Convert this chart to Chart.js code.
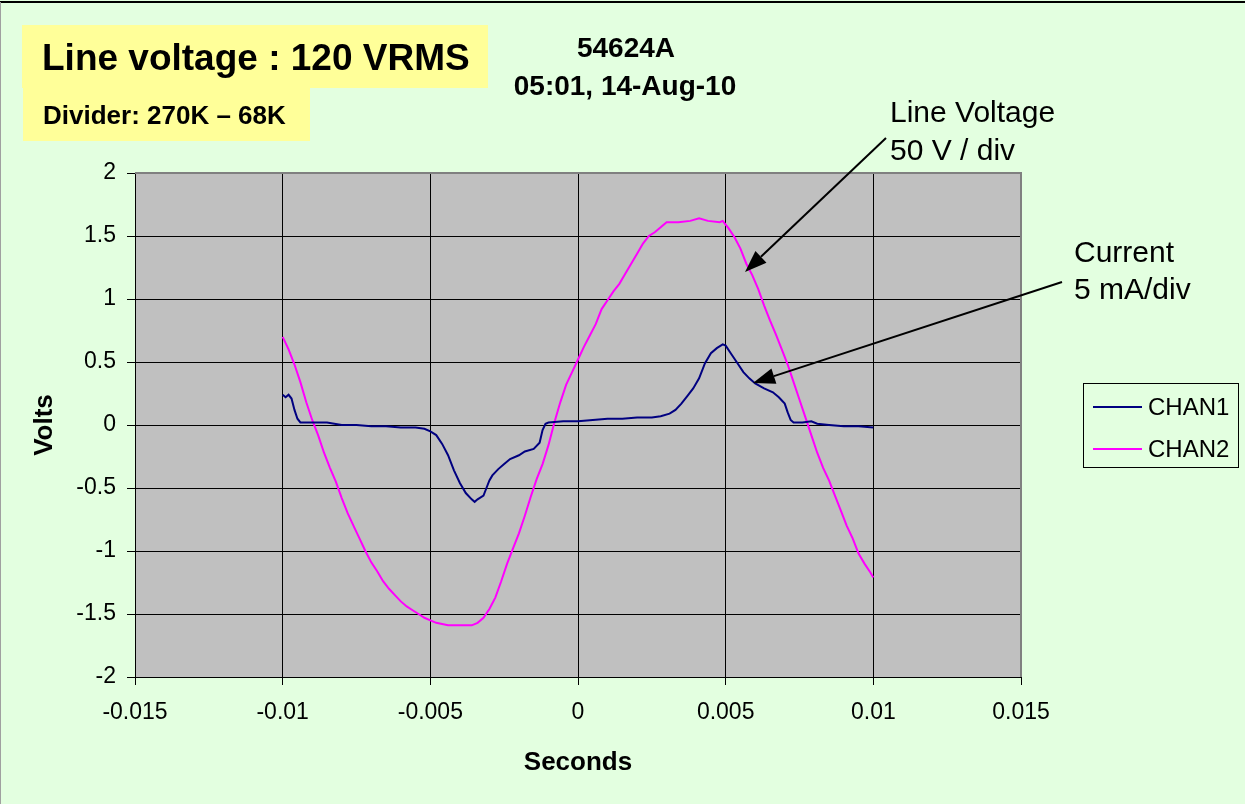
<!DOCTYPE html>
<html>
<head>
<meta charset="utf-8">
<style>
  html, body { margin: 0; padding: 0; background: #E3FFE0; }
  canvas { display: block; }
</style>
<script src="https://cdn.jsdelivr.net/npm/chart.js@4"></script>
</head>
<body>
<canvas id="scopeChart" width="1245" height="804"></canvas>
<script>
// scope capture
const chan1Time = [
  -0.0100, -0.0099, -0.0098, -0.0097, -0.0096, -0.0095, -0.0094, -0.0090, -0.0085, -0.0080,
  -0.0075, -0.0070, -0.0065, -0.0060, -0.0055, -0.0052, -0.0050, -0.0048, -0.0046, -0.0044,
  -0.0042, -0.0040, -0.0038, -0.0036, -0.0035, -0.0034, -0.0032, -0.0031, -0.0030, -0.0029,
  -0.0027, -0.0025, -0.0023, -0.0020, -0.0018, -0.0015, -0.0013, -0.0012, -0.0011, -0.0010,
  -0.0005, 0.0000, 0.0005, 0.0010, 0.0015, 0.0020, 0.0025, 0.0028, 0.0031, 0.0033,
  0.0035, 0.0037, 0.0039, 0.0041, 0.0043, 0.0045, 0.0047, 0.0049, 0.0050, 0.0052,
  0.0054, 0.0056, 0.0058, 0.0060, 0.0063, 0.0066, 0.0068, 0.0070, 0.0071, 0.0072,
  0.0073, 0.0076, 0.0079, 0.0081, 0.0085, 0.0090, 0.0095, 0.0100
];
const chan1Volts = [
  0.24, 0.22, 0.24, 0.21, 0.12, 0.05, 0.02, 0.02, 0.02, 0.00,
  0.00, -0.01, -0.01, -0.02, -0.02, -0.03, -0.05, -0.08, -0.15, -0.24,
  -0.36, -0.46, -0.54, -0.59, -0.61, -0.59, -0.56, -0.50, -0.44, -0.40,
  -0.35, -0.31, -0.27, -0.24, -0.21, -0.19, -0.14, -0.04, 0.01, 0.02,
  0.03, 0.03, 0.04, 0.05, 0.05, 0.06, 0.06, 0.07, 0.09, 0.12,
  0.17, 0.23, 0.29, 0.37, 0.49, 0.57, 0.61, 0.64, 0.63, 0.56,
  0.49, 0.42, 0.37, 0.33, 0.29, 0.26, 0.22, 0.17, 0.10, 0.04,
  0.02, 0.02, 0.03, 0.01, 0.00, -0.01, -0.01, -0.02
];

const chan2Time = [
  -0.0100, -0.0098, -0.0096, -0.0094, -0.0092, -0.0090, -0.0088, -0.0086, -0.0084, -0.0082,
  -0.0080, -0.0078, -0.0076, -0.0074, -0.0072, -0.0070, -0.0068, -0.0066, -0.0064, -0.0062,
  -0.0060, -0.0058, -0.0056, -0.0054, -0.0052, -0.0050, -0.0048, -0.0046, -0.0044, -0.0040,
  -0.0036, -0.0034, -0.0032, -0.0030, -0.0028, -0.0026, -0.0024, -0.0022, -0.0020, -0.0018,
  -0.0016, -0.0014, -0.0012, -0.0010, -0.0008, -0.0006, -0.0004, -0.0002, 0.0000, 0.0002,
  0.0004, 0.0006, 0.0008, 0.0010, 0.0012, 0.0014, 0.0016, 0.0018, 0.0020, 0.0022,
  0.0024, 0.0026, 0.0028, 0.0030, 0.0034, 0.0038, 0.0041, 0.0044, 0.0048, 0.0049,
  0.0051, 0.0053, 0.0055, 0.0057, 0.0059, 0.0061, 0.0063, 0.0065, 0.0067, 0.0069,
  0.0071, 0.0073, 0.0075, 0.0077, 0.0079, 0.0081, 0.0083, 0.0085, 0.0087, 0.0089,
  0.0091, 0.0093, 0.0095, 0.0097, 0.0099, 0.0100
];
const chan2Volts = [
  0.70, 0.60, 0.48, 0.34, 0.18, 0.04, -0.08, -0.22, -0.34, -0.45,
  -0.58, -0.70, -0.80, -0.90, -1.00, -1.09, -1.16, -1.24, -1.30, -1.35,
  -1.40, -1.44, -1.47, -1.50, -1.53, -1.55, -1.57, -1.58, -1.59, -1.59,
  -1.59, -1.57, -1.53, -1.46, -1.37, -1.24, -1.10, -0.98, -0.86, -0.72,
  -0.57, -0.43, -0.31, -0.16, 0.02, 0.18, 0.32, 0.42, 0.52, 0.62,
  0.71, 0.80, 0.92, 0.99, 1.06, 1.12, 1.20, 1.28, 1.36, 1.44,
  1.50, 1.53, 1.57, 1.61, 1.61, 1.62, 1.64, 1.62, 1.61, 1.62,
  1.56, 1.49, 1.40, 1.28, 1.19, 1.08, 0.95, 0.83, 0.72, 0.60,
  0.48, 0.34, 0.20, 0.06, -0.08, -0.22, -0.34, -0.44, -0.56, -0.68,
  -0.80, -0.90, -1.02, -1.10, -1.17, -1.21
];

const seriesNames = ['CHAN1', 'CHAN2'];
const seriesColors = ['#000080', '#FF00FF'];

const toPoints = (xs, ys) => xs.map((x, i) => ({ x: x, y: ys[i] }));

const FONT = '"Liberation Sans", Arial, sans-serif';
const BG = '#E3FFE0';

// everything that is not a data mark: boxes, notes, arrows, legend
const decorations = {
  id: 'decorations',
  beforeDraw(chart) {
    const ctx = chart.ctx;
    const a = chart.chartArea;
    ctx.save();
    ctx.fillStyle = BG;
    ctx.fillRect(0, 0, chart.width, chart.height);
    ctx.fillStyle = '#C0C0C0';
    ctx.fillRect(a.left, a.top, a.right - a.left, a.bottom - a.top);
    ctx.restore();
  },
  afterDraw(chart) {
    const ctx = chart.ctx;
    const a = chart.chartArea;
    ctx.save();

    // plot frame, top and right
    ctx.strokeStyle = '#808080';
    ctx.lineWidth = 2;
    ctx.beginPath();
    ctx.moveTo(a.left, a.top);
    ctx.lineTo(a.right, a.top);
    ctx.lineTo(a.right, a.bottom);
    ctx.stroke();

    // picture frame
    ctx.strokeStyle = '#000';
    ctx.lineWidth = 2;
    ctx.beginPath();
    ctx.moveTo(0, 2);
    ctx.lineTo(chart.width, 2);
    ctx.stroke();
    ctx.strokeStyle = '#A0A0A0';
    ctx.lineWidth = 1;
    ctx.beginPath();
    ctx.moveTo(0.5, 2);
    ctx.lineTo(0.5, chart.height);
    ctx.stroke();

    // yellow label boxes
    ctx.fillStyle = '#FFFF99';
    ctx.fillRect(22, 25, 466, 63);
    ctx.fillRect(23, 88, 287, 53);
    ctx.fillStyle = '#000';
    ctx.textBaseline = 'alphabetic';
    ctx.textAlign = 'left';
    ctx.font = 'bold 37px ' + FONT;
    ctx.fillText('Line voltage : 120 VRMS', 42, 70);
    ctx.font = 'bold 26px ' + FONT;
    ctx.fillText('Divider: 270K \u2013 68K', 43, 124);

    // scope id and time stamp
    ctx.textAlign = 'center';
    ctx.font = 'bold 28px ' + FONT;
    ctx.fillText('54624A', 626, 57);
    ctx.fillText('05:01, 14-Aug-10', 625, 95);

    // axis titles
    ctx.font = 'bold 26px ' + FONT;
    ctx.fillText('Seconds', 578, 770);
    ctx.save();
    ctx.translate(52, 425);
    ctx.rotate(-Math.PI / 2);
    ctx.fillText('Volts', 0, 0);
    ctx.restore();

    // notes
    ctx.textAlign = 'left';
    ctx.font = '30px ' + FONT;
    ctx.fillText('Line Voltage', 890, 122);
    ctx.fillText('50 V / div', 890, 160);
    ctx.fillText('Current', 1074, 262);
    ctx.fillText('5 mA/div', 1074, 299);

    drawArrow(ctx, 886, 138, 745, 272);
    drawArrow(ctx, 1062, 282, 753, 383);

    // legend
    ctx.strokeStyle = '#000';
    ctx.lineWidth = 1;
    ctx.strokeRect(1083.5, 383.5, 155, 84);
    ctx.font = '24px ' + FONT;
    seriesNames.forEach((name, i) => {
      const y = 407 + i * 42;
      ctx.strokeStyle = seriesColors[i];
      ctx.lineWidth = 2;
      ctx.beginPath();
      ctx.moveTo(1093, y);
      ctx.lineTo(1142, y);
      ctx.stroke();
      ctx.fillStyle = '#000';
      ctx.fillText(name, 1148, y + 8);
    });

    ctx.restore();
  }
};

function drawArrow(ctx, x1, y1, x2, y2) {
  const ang = Math.atan2(y2 - y1, x2 - x1);
  const len = 22, half = 8;
  const bx = x2 - len * Math.cos(ang), by = y2 - len * Math.sin(ang);
  ctx.strokeStyle = '#000';
  ctx.fillStyle = '#000';
  ctx.lineWidth = 2;
  ctx.beginPath();
  ctx.moveTo(x1, y1);
  ctx.lineTo(bx, by);
  ctx.stroke();
  ctx.beginPath();
  ctx.moveTo(x2, y2);
  ctx.lineTo(bx + half * Math.sin(ang), by - half * Math.cos(ang));
  ctx.lineTo(bx - half * Math.sin(ang), by + half * Math.cos(ang));
  ctx.closePath();
  ctx.fill();
}

const scopeData = {
  datasets: [{
    label: seriesNames[0],
    data: toPoints(chan1Time, chan1Volts),
    borderColor: seriesColors[0],
    borderWidth: 2,
    showLine: true,
    pointRadius: 0,
    tension: 0
  }, {
    label: seriesNames[1],
    data: toPoints(chan2Time, chan2Volts),
    borderColor: seriesColors[1],
    borderWidth: 2,
    showLine: true,
    pointRadius: 0,
    tension: 0
  }]
};

const config = {
  type: 'scatter',
  data: scopeData,
  options: {
    responsive: false,
    animation: false,
    layout: { padding: { top: 173, right: 224, left: 0, bottom: 0 } },
    plugins: {
      legend: { display: false },
      title: { display: false },
      tooltip: { enabled: false }
    },
    scales: {
      x: {
        type: 'linear',
        min: -0.015,
        max: 0.015,
        afterFit: (scale) => { scale.height = 127; },
        ticks: {
          stepSize: 0.005,
          color: '#000',
          padding: 14,
          maxRotation: 0,
          font: { family: FONT, size: 23 },
          callback: (v) => String(+v.toFixed(3))
        },
        grid: {
          color: (c) => (c.tick && Math.abs(c.tick.value - 0.015) < 1e-9 ? '#808080' : '#000'),
          lineWidth: 1,
          tickLength: 8,
          tickColor: '#000'
        },
        border: { display: true, color: '#000', width: 1 }
      },
      y: {
        min: -2,
        max: 2,
        afterFit: (scale) => { scale.width = 135; },
        ticks: {
          stepSize: 0.5,
          color: '#000',
          padding: 11,
          font: { family: FONT, size: 23 },
          callback: (v) => String(v)
        },
        grid: {
          color: (c) => (c.tick && c.tick.value === 2 ? '#808080' : '#000'),
          lineWidth: 1,
          tickLength: 8,
          tickColor: '#000'
        },
        border: { display: true, color: '#000', width: 1 }
      }
    }
  },
  plugins: [decorations]
};

const scopeChart = new Chart(document.getElementById('scopeChart'), config);
</script>
</body>
</html>
